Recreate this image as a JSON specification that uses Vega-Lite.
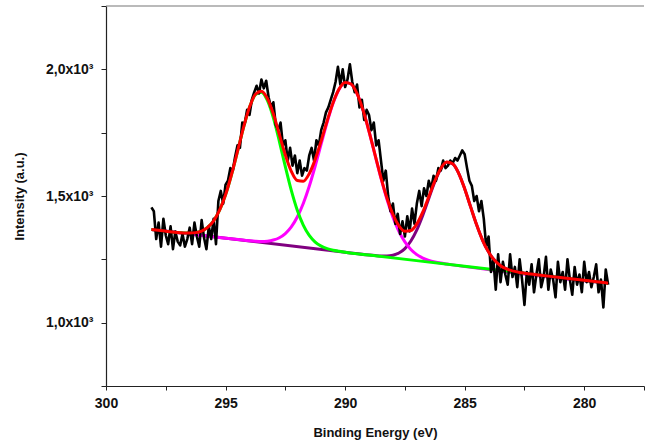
{
  "$schema": "https://vega.github.io/schema/vega-lite/v6.json",
  "width": 538,
  "height": 380,
  "autosize": {"type": "none"},
  "padding": {"left": 106, "top": 6, "right": 5, "bottom": 62},
  "background": "white",
  "config": {
    "view": {"stroke": null},
    "axis": {
      "grid": false,
      "domainColor": "#222",
      "domainWidth": 1.2,
      "tickColor": "#222",
      "tickWidth": 1,
      "labelFont": "Liberation Sans",
      "labelFontWeight": "bold",
      "labelFontSize": 14,
      "labelColor": "#111",
      "titleFont": "Liberation Sans",
      "titleFontWeight": "bold",
      "titleFontSize": 13,
      "titleColor": "#111"
    }
  },
  "datasets": {
    "spectrum": [
      {"E":298.1,"I":1455},{"E":298.0,"I":1440},{"E":297.9,"I":1330},{"E":297.8,"I":1395},{"E":297.7,"I":1300},
      {"E":297.6,"I":1410},{"E":297.5,"I":1345},{"E":297.4,"I":1310},{"E":297.3,"I":1380},{"E":297.2,"I":1290},
      {"E":297.1,"I":1360},{"E":297.0,"I":1320},{"E":296.9,"I":1305},{"E":296.8,"I":1350},{"E":296.7,"I":1300},
      {"E":296.6,"I":1330},{"E":296.5,"I":1375},{"E":296.4,"I":1310},{"E":296.3,"I":1395},{"E":296.2,"I":1340},
      {"E":296.1,"I":1300},{"E":296.0,"I":1405},{"E":295.9,"I":1335},{"E":295.8,"I":1290},{"E":295.7,"I":1380},
      {"E":295.6,"I":1330},{"E":295.5,"I":1410},{"E":295.4,"I":1310},{"E":295.3,"I":1480},{"E":295.2,"I":1520},
      {"E":295.1,"I":1470},{"E":295.0,"I":1545},{"E":294.9,"I":1560},{"E":294.8,"I":1610},{"E":294.7,"I":1600},
      {"E":294.6,"I":1655},{"E":294.5,"I":1700},{"E":294.4,"I":1690},{"E":294.3,"I":1790},{"E":294.2,"I":1785},
      {"E":294.1,"I":1840},{"E":294.0,"I":1820},{"E":293.9,"I":1880},{"E":293.8,"I":1910},{"E":293.7,"I":1935},
      {"E":293.6,"I":1905},{"E":293.5,"I":1960},{"E":293.4,"I":1925},{"E":293.3,"I":1955},{"E":293.2,"I":1890},
      {"E":293.1,"I":1850},{"E":293.0,"I":1870},{"E":292.9,"I":1780},{"E":292.8,"I":1760},{"E":292.7,"I":1790},
      {"E":292.6,"I":1700},{"E":292.5,"I":1720},{"E":292.4,"I":1640},{"E":292.3,"I":1690},{"E":292.2,"I":1620},
      {"E":292.1,"I":1660},{"E":292.0,"I":1590},{"E":291.9,"I":1640},{"E":291.8,"I":1580},{"E":291.7,"I":1610},
      {"E":291.6,"I":1600},{"E":291.5,"I":1660},{"E":291.4,"I":1690},{"E":291.3,"I":1640},{"E":291.2,"I":1720},
      {"E":291.1,"I":1700},{"E":291.0,"I":1760},{"E":290.9,"I":1790},{"E":290.8,"I":1830},{"E":290.7,"I":1850},
      {"E":290.6,"I":1880},{"E":290.5,"I":1910},{"E":290.4,"I":1950},{"E":290.3,"I":2010},{"E":290.2,"I":1940},
      {"E":290.1,"I":2000},{"E":290.0,"I":1930},{"E":289.9,"I":1960},{"E":289.8,"I":2020},{"E":289.7,"I":1950},
      {"E":289.6,"I":1910},{"E":289.5,"I":1940},{"E":289.4,"I":1850},{"E":289.3,"I":1880},{"E":289.2,"I":1800},
      {"E":289.1,"I":1840},{"E":289.0,"I":1820},{"E":288.9,"I":1760},{"E":288.8,"I":1790},{"E":288.7,"I":1700},
      {"E":288.6,"I":1720},{"E":288.5,"I":1640},{"E":288.4,"I":1560},{"E":288.3,"I":1600},{"E":288.2,"I":1500},
      {"E":288.1,"I":1440},{"E":288.0,"I":1470},{"E":287.9,"I":1390},{"E":287.8,"I":1430},{"E":287.7,"I":1350},
      {"E":287.6,"I":1400},{"E":287.5,"I":1340},{"E":287.4,"I":1420},{"E":287.3,"I":1360},{"E":287.2,"I":1450},
      {"E":287.1,"I":1390},{"E":287.0,"I":1470},{"E":286.9,"I":1520},{"E":286.8,"I":1460},{"E":286.7,"I":1530},
      {"E":286.6,"I":1500},{"E":286.5,"I":1560},{"E":286.4,"I":1530},{"E":286.3,"I":1580},{"E":286.2,"I":1560},
      {"E":286.1,"I":1610},{"E":286.0,"I":1600},{"E":285.9,"I":1640},{"E":285.8,"I":1610},{"E":285.7,"I":1620},
      {"E":285.6,"I":1640},{"E":285.5,"I":1630},{"E":285.4,"I":1650},{"E":285.3,"I":1640},{"E":285.2,"I":1660},
      {"E":285.1,"I":1680},{"E":285.0,"I":1665},{"E":284.9,"I":1610},{"E":284.8,"I":1560},{"E":284.7,"I":1540},
      {"E":284.6,"I":1480},{"E":284.5,"I":1500},{"E":284.4,"I":1440},{"E":284.3,"I":1480},{"E":284.2,"I":1410},
      {"E":284.1,"I":1300},{"E":284.0,"I":1340},{"E":283.9,"I":1200},{"E":283.8,"I":1250},{"E":283.7,"I":1130},
      {"E":283.6,"I":1270},{"E":283.5,"I":1160},{"E":283.4,"I":1240},{"E":283.3,"I":1190},{"E":283.2,"I":1150},
      {"E":283.1,"I":1270},{"E":283.0,"I":1180},{"E":282.9,"I":1220},{"E":282.8,"I":1140},{"E":282.7,"I":1250},
      {"E":282.6,"I":1170},{"E":282.5,"I":1070},{"E":282.4,"I":1200},{"E":282.3,"I":1150},{"E":282.2,"I":1230},
      {"E":282.1,"I":1120},{"E":282.0,"I":1190},{"E":281.9,"I":1250},{"E":281.8,"I":1140},{"E":281.7,"I":1180},
      {"E":281.6,"I":1260},{"E":281.5,"I":1130},{"E":281.4,"I":1210},{"E":281.3,"I":1170},{"E":281.2,"I":1100},
      {"E":281.1,"I":1240},{"E":281.0,"I":1160},{"E":280.9,"I":1200},{"E":280.8,"I":1130},{"E":280.7,"I":1250},
      {"E":280.6,"I":1170},{"E":280.5,"I":1110},{"E":280.4,"I":1220},{"E":280.3,"I":1150},{"E":280.2,"I":1190},
      {"E":280.1,"I":1120},{"E":280.0,"I":1240},{"E":279.9,"I":1160},{"E":279.8,"I":1200},{"E":279.7,"I":1140},
      {"E":279.6,"I":1180},{"E":279.5,"I":1230},{"E":279.4,"I":1120},{"E":279.3,"I":1170},{"E":279.2,"I":1060},
      {"E":279.1,"I":1210},{"E":279.0,"I":1150}
    ],
    "peakC": [
      {"E":298.1,"I":1367.8},{"E":290.0,"I":1278.0},{"E":289.0,"I":1266.9},{"E":288.75,"I":1264.8},
      {"E":288.5,"I":1263.3},{"E":288.25,"I":1263.3},{"E":288.0,"I":1266.4},{"E":287.75,"I":1275.0},
      {"E":287.5,"I":1292.5},{"E":287.25,"I":1322.2},{"E":287.0,"I":1366.2},{"E":286.75,"I":1424.1},
      {"E":286.5,"I":1490.5},{"E":286.25,"I":1555.7},{"E":286.0,"I":1607.1},{"E":285.75,"I":1633.2},
      {"E":285.5,"I":1627.1},{"E":285.25,"I":1589.7},{"E":285.0,"I":1529.0},{"E":284.75,"I":1457.0},
      {"E":284.5,"I":1386.1},{"E":284.25,"I":1325.2},{"E":284.0,"I":1278.6},{"E":283.75,"I":1246.0},
      {"E":283.5,"I":1225.0},{"E":283.25,"I":1212.2},{"E":283.0,"I":1204.3},{"E":282.75,"I":1199.2},
      {"E":282.5,"I":1195.4},{"E":282.0,"I":1189.3},{"E":279.0,"I":1156.0}
    ],
    "peakB": [
      {"E":298.1,"I":1367.8},{"E":295.0,"I":1333.4},{"E":294.0,"I":1323.0},{"E":293.75,"I":1321.5},
      {"E":293.5,"I":1320.7},{"E":293.25,"I":1321.8},{"E":293.0,"I":1326.2},{"E":292.75,"I":1335.3},
      {"E":292.5,"I":1351.7},{"E":292.25,"I":1378.2},{"E":292.0,"I":1417.2},{"E":291.75,"I":1470.4},
      {"E":291.5,"I":1538.3},{"E":291.25,"I":1618.4},{"E":291.0,"I":1705.5},{"E":290.75,"I":1791.5},
      {"E":290.5,"I":1867.0},{"E":290.25,"I":1921.8},{"E":290.0,"I":1948.3},{"E":289.75,"I":1942.1},
      {"E":289.5,"I":1904.1},{"E":289.25,"I":1838.8},{"E":289.0,"I":1754.9},{"E":288.75,"I":1662.3},
      {"E":288.5,"I":1570.6},{"E":288.25,"I":1487.1},{"E":288.0,"I":1416.4},{"E":287.75,"I":1360.5},
      {"E":287.5,"I":1318.7},{"E":287.25,"I":1289.0},{"E":287.0,"I":1268.6},{"E":286.75,"I":1255.1},
      {"E":286.5,"I":1246.1},{"E":286.25,"I":1239.8},{"E":286.0,"I":1235.2},{"E":285.75,"I":1231.6},
      {"E":285.5,"I":1228.1},{"E":279.0,"I":1156.0}
    ],
    "peakA": [
      {"E":298.1,"I":1367.8},{"E":297.0,"I":1355.6},{"E":296.75,"I":1354.2},{"E":296.5,"I":1353.6},
      {"E":296.25,"I":1355.4},{"E":296.0,"I":1361.7},{"E":295.75,"I":1376.0},{"E":295.5,"I":1402.0},
      {"E":295.25,"I":1444.3},{"E":295.0,"I":1505.1},{"E":294.75,"I":1584.9},{"E":294.5,"I":1676.6},
      {"E":294.25,"I":1770.0},{"E":294.0,"I":1849.3},{"E":293.75,"I":1899.9},{"E":293.5,"I":1909.9},
      {"E":293.25,"I":1877.1},{"E":293.0,"I":1808.5},{"E":292.75,"I":1716.0},{"E":292.5,"I":1615.8},
      {"E":292.25,"I":1522.2},{"E":292.0,"I":1443.9},{"E":291.75,"I":1385.3},{"E":291.5,"I":1344.4},
      {"E":291.25,"I":1318.1},{"E":291.0,"I":1301.9},{"E":290.75,"I":1292.1},{"E":290.5,"I":1286.0},
      {"E":290.25,"I":1281.8},{"E":290.0,"I":1278.0},{"E":289.0,"I":1266.9},{"E":285.0,"I":1222.6},
      {"E":282.0,"I":1189.3},{"E":279.0,"I":1156.0}
    ],
    "envelope": [
      {"E":298.1,"I":1367.8},{"E":297.5,"I":1361.2},{"E":297.0,"I":1355.6},{"E":296.75,"I":1354.2},
      {"E":296.5,"I":1353.6},{"E":296.25,"I":1355.4},{"E":296.0,"I":1361.7},{"E":295.75,"I":1376.0},
      {"E":295.5,"I":1402.0},{"E":295.25,"I":1444.3},{"E":295.0,"I":1505.1},{"E":294.75,"I":1584.9},
      {"E":294.5,"I":1676.6},{"E":294.25,"I":1770.0},{"E":294.0,"I":1849.9},{"E":293.75,"I":1901.8},
      {"E":293.5,"I":1913.8},{"E":293.25,"I":1884.9},{"E":293.0,"I":1823.4},{"E":292.75,"I":1742.8},
      {"E":292.5,"I":1661.8},{"E":292.25,"I":1597.4},{"E":292.0,"I":1560.9},{"E":291.75,"I":1558.3},
      {"E":291.5,"I":1588.1},{"E":291.25,"I":1644.6},{"E":291.0,"I":1718.3},{"E":290.75,"I":1797.3},
      {"E":290.5,"I":1869.4},{"E":290.25,"I":1922.8},{"E":290.0,"I":1948.3},{"E":289.75,"I":1942.1},
      {"E":289.5,"I":1904.1},{"E":289.25,"I":1838.8},{"E":289.0,"I":1754.9},{"E":288.75,"I":1663.0},
      {"E":288.5,"I":1572.5},{"E":288.25,"I":1491.8},{"E":288.0,"I":1427.0},{"E":287.75,"I":1382.5},
      {"E":287.5,"I":1360.9},{"E":287.25,"I":1363.7},{"E":287.0,"I":1390.1},{"E":286.75,"I":1437.2},
      {"E":286.5,"I":1497.4},{"E":286.25,"I":1559.1},{"E":286.0,"I":1608.7},{"E":285.75,"I":1633.9},
      {"E":285.5,"I":1627.1},{"E":285.25,"I":1589.7},{"E":285.0,"I":1529.0},{"E":284.75,"I":1457.0},
      {"E":284.5,"I":1386.1},{"E":284.25,"I":1325.2},{"E":284.0,"I":1278.6},{"E":283.75,"I":1246.0},
      {"E":283.5,"I":1225.0},{"E":283.25,"I":1212.2},{"E":283.0,"I":1204.3},{"E":282.75,"I":1199.2},
      {"E":282.5,"I":1195.4},{"E":282.0,"I":1189.3},{"E":281.0,"I":1178.2},{"E":280.0,"I":1167.1},
      {"E":279.0,"I":1156.0}
    ],
    "frame": [{"E":300,"E2":277.5,"I":2250}]
  },
  "encoding": {
    "x": {
      "field": "E",
      "type": "quantitative",
      "scale": {"domain": [277.5, 300], "reverse": true, "nice": false, "zero": false},
      "axis": {
        "title": "Binding Energy (eV)",
        "values": [300, 297.5, 295, 292.5, 290, 287.5, 285, 282.5, 280, 277.5],
        "labelExpr": "datum.value % 5 == 0 ? format(datum.value, 'd') : ''",
        "tickSize": 4,
        "labelPadding": 6,
        "labelFlush": false,
        "labelOverlap": false,
        "titlePadding": 16
      }
    },
    "y": {
      "field": "I",
      "type": "quantitative",
      "scale": {"domain": [750, 2250], "nice": false, "zero": false},
      "axis": {
        "title": "Intensity (a.u.)",
        "values": [750, 1000, 1250, 1500, 1750, 2000, 2250],
        "labelExpr": "datum.value == 1000 ? '1,0x10³' : datum.value == 1500 ? '1,5x10³' : datum.value == 2000 ? '2,0x10³' : ''",
        "tickSize": 5,
        "labelPadding": 8,
        "labelOverlap": false,
        "titlePadding": 19
      }
    },
    "order": {"field": "E", "sort": "descending"}
  },
  "layer": [
    {
      "data": {"name": "frame"},
      "mark": {"type": "rule", "color": "#777", "strokeWidth": 1.2},
      "encoding": {"x2": {"field": "E2"}}
    },
    {
      "data": {"name": "peakC"},
      "mark": {"type": "line", "color": "#800080", "strokeWidth": 3, "interpolate": "monotone"}
    },
    {
      "data": {"name": "peakB"},
      "mark": {"type": "line", "color": "#FF00FF", "strokeWidth": 3, "interpolate": "monotone"}
    },
    {
      "data": {"name": "peakA"},
      "mark": {"type": "line", "color": "#00FF00", "strokeWidth": 3, "interpolate": "monotone"}
    },
    {
      "data": {"name": "spectrum"},
      "mark": {"type": "line", "color": "#000000", "strokeWidth": 2.6, "strokeJoin": "round"}
    },
    {
      "data": {"name": "envelope"},
      "mark": {"type": "line", "color": "#FF0000", "strokeWidth": 3, "interpolate": "monotone"}
    }
  ]
}
